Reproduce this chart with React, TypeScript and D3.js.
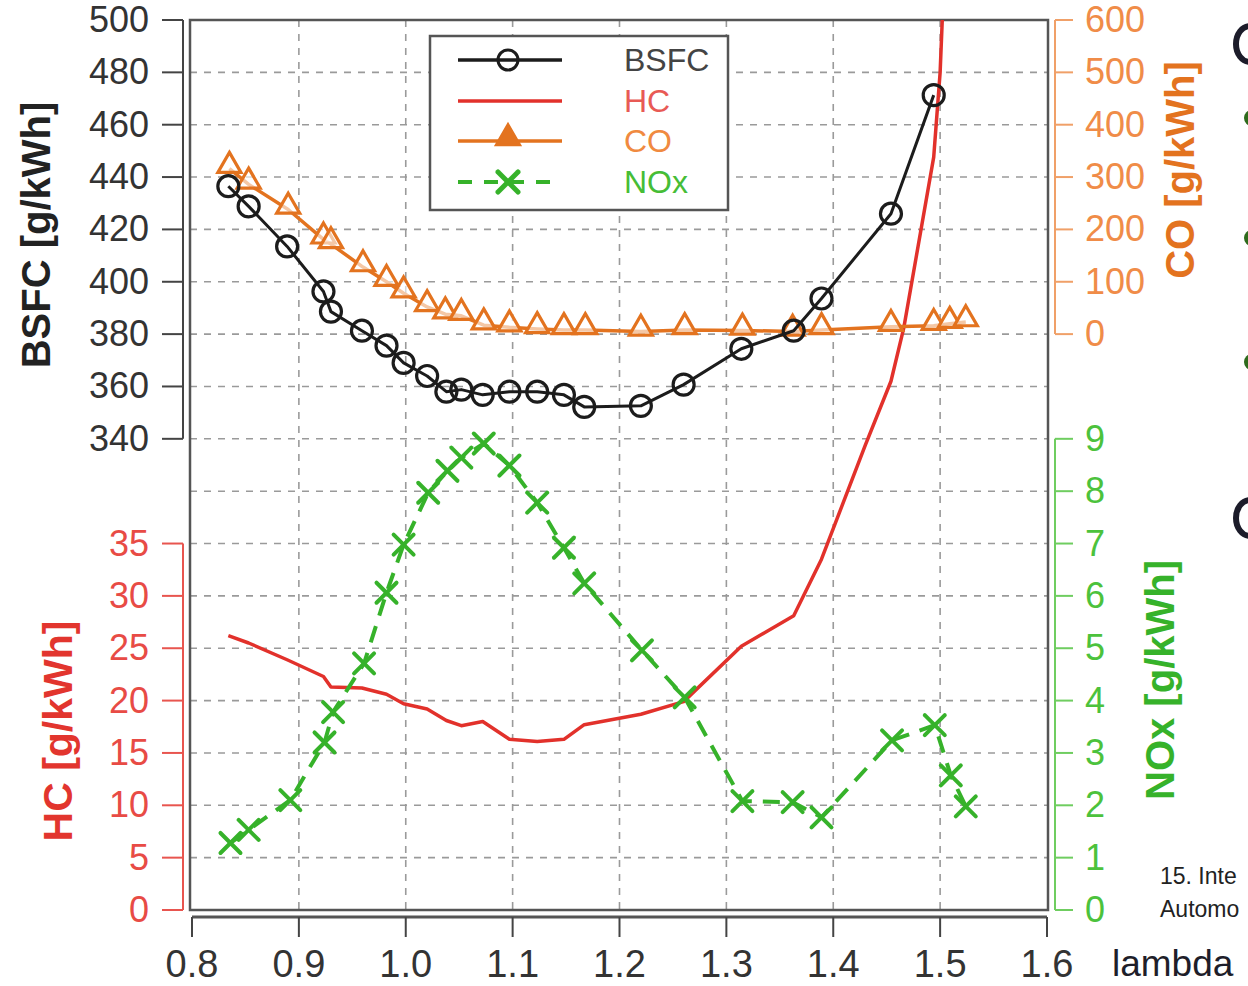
import React from "react";
import * as d3 from "d3";

const lambdaVals = [0.834, 0.853, 0.889, 0.923, 0.930, 0.959, 0.982, 0.998, 1.020, 1.038, 1.052, 1.072, 1.097, 1.123, 1.148, 1.167, 1.220, 1.260, 1.314, 1.363, 1.389, 1.454, 1.494];
const bsfcVals = [436.5, 428.8, 413.5, 396.3, 388.6, 381.3, 375.6, 369, 364, 358, 358.8, 356.8, 358, 358, 356.8, 352.2, 352.6, 360.7, 374.4, 381.3, 393.6, 426, 471.3];

const hcLambda = [0.834, 0.853, 0.889, 0.923, 0.930, 0.959, 0.982, 0.998, 1.020, 1.038, 1.052, 1.072, 1.097, 1.123, 1.148, 1.167, 1.220, 1.260, 1.314, 1.363, 1.389, 1.430, 1.454, 1.466, 1.494, 1.500, 1.506];
const hcVals = [26.2, 25.5, 23.9, 22.3, 21.3, 21.2, 20.6, 19.7, 19.2, 18.1, 17.6, 18.0, 16.3, 16.1, 16.3, 17.7, 18.7, 19.9, 25.2, 28.1, 33.5, 44.4, 50.5, 55.6, 71.9, 80, 95];

const coLambda = [0.835, 0.853, 0.890, 0.923, 0.930, 0.960, 0.982, 0.998, 1.020, 1.037, 1.052, 1.073, 1.097, 1.123, 1.148, 1.168, 1.220, 1.261, 1.315, 1.362, 1.389, 1.454, 1.494, 1.509, 1.524];
const coVals = [316, 286, 238, 181, 172, 128, 100, 78, 52, 38, 35, 17, 13, 10, 8, 8, 5, 8, 7, 5, 8, 14, 16, 20, 23];

const noxLambda = [0.836, 0.853, 0.892, 0.924, 0.932, 0.961, 0.982, 0.998, 1.021, 1.039, 1.052, 1.073, 1.097, 1.123, 1.148, 1.167, 1.221, 1.261, 1.315, 1.362, 1.389, 1.455, 1.495, 1.510, 1.524];
const noxVals = [1.28, 1.53, 2.1, 3.2, 3.78, 4.71, 6.06, 6.98, 7.97, 8.39, 8.64, 8.91, 8.49, 7.78, 6.92, 6.24, 4.96, 4.06, 2.08, 2.06, 1.77, 3.24, 3.53, 2.57, 1.98];

const xTicks = [0.8, 0.9, 1.0, 1.1, 1.2, 1.3, 1.4, 1.5, 1.6];
const bsfcTicks = [340, 360, 380, 400, 420, 440, 460, 480, 500];
const hcTicks = [0, 5, 10, 15, 20, 25, 30, 35];
const coTicks = [0, 100, 200, 300, 400, 500, 600];
const noxTicks = [0, 1, 2, 3, 4, 5, 6, 7, 8, 9];
const legendNames = ["BSFC", "HC", "CO", "NOx"];

const W = 1248, H = 986;
const L = 190, R = 1048, T = 20, B = 910;
const step = (B - T) / 17;

const C = {
  bsfc: "#1c1c1c",
  hc: "#e2312b",
  co: "#e3731f",
  nox: "#36b22a",
  grid: "#9a9a9a",
  frame: "#555",
};

export default function App() {
  const x = d3.scaleLinear().domain([0.8, 1.6]).range([192, 1047]);
  const yB = d3.scaleLinear().domain([340, 500]).range([T + 8 * step, T]);
  const yH = d3.scaleLinear().domain([0, 35]).range([B, B - 7 * step]);
  const yC = d3.scaleLinear().domain([0, 600]).range([T + 6 * step, T]);
  const yN = d3.scaleLinear().domain([0, 9]).range([B, B - 9 * step]);

  const bsfcPts = lambdaVals.map((l, i) => [x(l), yB(bsfcVals[i])] as [number, number]);
  const hcPts = hcLambda.map((l, i) => [x(l), yH(hcVals[i])] as [number, number]);
  const coPts = coLambda.map((l, i) => [x(l), yC(coVals[i])] as [number, number]);
  const noxPts = noxLambda.map((l, i) => [x(l), yN(noxVals[i])] as [number, number]);
  const line = d3.line();
  const tri = d3.symbol(d3.symbolTriangle, 230)() as string;

  const gridY = d3.range(1, 17).map((k) => T + k * step);
  const gridX = xTicks.slice(1, -1).map((t) => x(t));

  const font = "Liberation Sans, Arial, sans-serif";
  const legY = [60, 101, 141, 182];
  const legColors = [C.bsfc, C.hc, C.co, C.nox];
  const legText = ["#444", "#e85a55", "#f08a40", "#46bd36"];

  const xMark = (cx: number, cy: number, key: any, col: string, s = 10, sw = 4) => (
    <g key={key} stroke={col} strokeWidth={sw} strokeLinecap="round">
      <line x1={cx - s} y1={cy - s} x2={cx + s} y2={cy + s} />
      <line x1={cx - s} y1={cy + s} x2={cx + s} y2={cy - s} />
    </g>
  );

  const arc = (cy: number) =>
    `M1250,${cy - 18} A14,18 0 0,0 1250,${cy + 18}`;

  return (
    <svg width={W} height={H} style={{ position: "absolute", left: 0, top: 0, background: "#fff" }} fontFamily={font}>
      <defs>
        <clipPath id="plot">
          <rect x={L} y={T} width={R - L} height={B - T} />
        </clipPath>
      </defs>
      <rect x={0} y={0} width={W} height={H} fill="#fff" />

      {/* grid */}
      <g stroke={C.grid} strokeWidth={1.6} strokeDasharray="7,7">
        {gridY.map((gy, i) => (
          <line key={"gy" + i} x1={L} x2={R} y1={gy} y2={gy} />
        ))}
        {gridX.map((gx, i) => (
          <line key={"gx" + i} x1={gx} x2={gx} y1={T} y2={B} />
        ))}
      </g>

      {/* frame */}
      <rect x={L} y={T} width={R - L} height={B - T} fill="none" stroke={C.frame} strokeWidth={2.5} />

      {/* series */}
      <g clipPath="url(#plot)">
        <path d={line(hcPts) as string} fill="none" stroke={C.hc} strokeWidth={3.5} strokeLinejoin="round" />
        <path d={line(coPts) as string} fill="none" stroke={C.co} strokeWidth={3.5} strokeLinejoin="round" />
        {coPts.map(([px, py], i) => (
          <path key={"co" + i} d={tri} transform={`translate(${px},${py - 3})`} fill="#fff" fillOpacity={0.6} stroke={C.co} strokeWidth={3.2} />
        ))}
        <path d={line(noxPts) as string} fill="none" stroke={C.nox} strokeWidth={4} strokeDasharray="17,11" />
        {noxPts.map(([px, py], i) => xMark(px, py, "nx" + i, C.nox))}
        <path d={line(bsfcPts) as string} fill="none" stroke={C.bsfc} strokeWidth={3} strokeLinejoin="round" />
        {bsfcPts.map(([px, py], i) => (
          <circle key={"b" + i} cx={px} cy={py} r={10.5} fill="none" stroke={C.bsfc} strokeWidth={3.2} />
        ))}
      </g>

      {/* legend */}
      <rect x={430} y={36} width={298} height={174} fill="#fff" stroke="#555" strokeWidth={2.5} />
      {legendNames.map((n, i) => (
        <g key={"leg" + i}>
          <line x1={458} x2={562} y1={legY[i]} y2={legY[i]} stroke={legColors[i]} strokeWidth={i === 3 ? 4 : 3.5} strokeDasharray={i === 3 ? "14,12" : undefined} />
          {i === 0 && <circle cx={508} cy={legY[i]} r={10} fill="none" stroke={C.bsfc} strokeWidth={3} />}
          {i === 2 && <path d={tri} transform={`translate(508,${legY[i] - 3})`} fill={C.co} stroke={C.co} strokeWidth={3} />}
          {i === 3 && xMark(508, legY[i], "lx", C.nox, 10, 5)}
          <text x={624} y={legY[i] + 11} fontSize={32} fill={legText[i]}>{n}</text>
        </g>
      ))}

      {/* BSFC axis */}
      <line x1={183} x2={183} y1={T} y2={yB(340)} stroke="#444" strokeWidth={2} />
      {bsfcTicks.map((t) => (
        <g key={"bt" + t}>
          <line x1={162} x2={183} y1={yB(t)} y2={yB(t)} stroke="#444" strokeWidth={2} />
          <text x={149} y={yB(t) + 12} textAnchor="end" fontSize={36} fill="#333">{t}</text>
        </g>
      ))}
      <text transform={`translate(50,235) rotate(-90)`} textAnchor="middle" fontSize={40} fontWeight="bold" fill="#222">BSFC [g/kWh]</text>

      {/* HC axis */}
      <line x1={183} x2={183} y1={yH(35)} y2={B} stroke="#e8554f" strokeWidth={2} />
      {hcTicks.map((t) => (
        <g key={"ht" + t}>
          <line x1={162} x2={183} y1={yH(t)} y2={yH(t)} stroke="#e8554f" strokeWidth={2} />
          <text x={149} y={yH(t) + 12} textAnchor="end" fontSize={36} fill="#e84b45">{t}</text>
        </g>
      ))}
      <text transform={`translate(72,731) rotate(-90)`} textAnchor="middle" fontSize={41} fontWeight="bold" fill="#e2352e">HC [g/kWh]</text>

      {/* CO axis */}
      <line x1={1055} x2={1055} y1={T} y2={yC(0)} stroke="#f0a068" strokeWidth={2} />
      {coTicks.map((t) => (
        <g key={"ct" + t}>
          <line x1={1055} x2={1073} y1={yC(t)} y2={yC(t)} stroke="#f0a068" strokeWidth={2} />
          <text x={1085} y={yC(t) + 12} fontSize={36} fill="#f08c48">{t}</text>
        </g>
      ))}
      <text transform={`translate(1194,170) rotate(-90)`} textAnchor="middle" fontSize={40} fontWeight="bold" fill="#e3731f">CO [g/kWh]</text>

      {/* NOx axis */}
      <line x1={1055} x2={1055} y1={yN(9)} y2={B} stroke="#6fcd60" strokeWidth={2} />
      {noxTicks.map((t) => (
        <g key={"nt" + t}>
          <line x1={1055} x2={1073} y1={yN(t)} y2={yN(t)} stroke="#6fcd60" strokeWidth={2} />
          <text x={1085} y={yN(t) + 12} fontSize={36} fill="#4cc23c">{t}</text>
        </g>
      ))}
      <text transform={`translate(1174,680) rotate(-90)`} textAnchor="middle" fontSize={40} fontWeight="bold" fill="#36b22a">NOx [g/kWh]</text>

      {/* x axis */}
      <line x1={192} x2={1047} y1={917} y2={917} stroke="#555" strokeWidth={3} />
      {xTicks.map((t) => (
        <g key={"xt" + t}>
          <line x1={x(t)} x2={x(t)} y1={917} y2={937} stroke="#444" strokeWidth={2} />
          <text x={x(t)} y={977} textAnchor="middle" fontSize={38} fill="#333">{t.toFixed(1)}</text>
        </g>
      ))}
      <text x={1112} y={976} fontSize={37} fill="#1e1e2a">lambda</text>

      {/* cut-off slide content on the right */}
      <text x={1160} y={884} fontSize={23} fill="#222">15. Inte</text>
      <text x={1160} y={917} fontSize={23} fill="#222">Automo</text>
      <path d={arc(44)} fill="none" stroke="#1c1c2a" strokeWidth={6} />
      <path d={arc(518)} fill="none" stroke="#1c1c2a" strokeWidth={6} />
      {[118, 238, 362].map((cy) => (
        <circle key={"bul" + cy} cx={1252} cy={cy} r={8} fill="#2e6b1c" />
      ))}
    </svg>
  );
}
